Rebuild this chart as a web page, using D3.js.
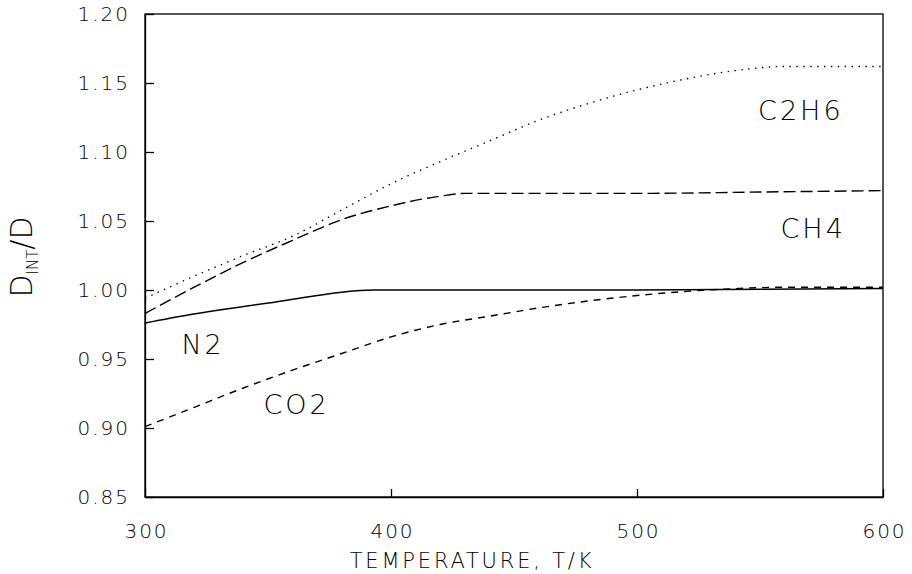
<!DOCTYPE html>
<html>
<head>
<meta charset="utf-8">
<script src="https://cdn.jsdelivr.net/npm/d3@7"></script>
<style>
  body { margin: 0; background: #fff; }
  svg { display: block; }
  text { font-family: "DejaVu Sans", sans-serif; font-weight: 200; fill: #000; }
</style>
</head>
<body>
<svg width="912" height="574"></svg>
<script>
// values: [T in K, D_INT/D]
var n2 = [[300, 0.976], [318, 0.982], [352, 0.991], [393, 1.000], [500, 1.000], [600, 1.001]];
var co2 = [[300, 0.901], [320, 0.915], [340, 0.929], [360, 0.942], [380, 0.954], [400, 0.966], [420, 0.975], [440, 0.981],
           [460, 0.987], [480, 0.992], [500, 0.996], [520, 0.999], [540, 1.001], [560, 1.002], [600, 1.002]];
var ch4 = [[300, 0.983], [320, 1.002], [340, 1.020], [360, 1.036], [380, 1.051], [400, 1.061], [420, 1.068], [430, 1.070],
           [500, 1.070], [550, 1.071], [600, 1.072]];
var c2h6 = [[300, 0.994], [320, 1.010], [340, 1.025], [360, 1.039], [380, 1.058], [400, 1.077], [420, 1.093], [440, 1.108],
            [460, 1.123], [480, 1.135], [500, 1.145], [520, 1.153], [540, 1.159], [560, 1.162], [580, 1.162], [600, 1.162]];

var xTicks = [300, 400, 500, 600];
var yTicks = [0.85, 0.90, 0.95, 1.00, 1.05, 1.10, 1.15, 1.20];

// label name, T, value
var labels = [["C2H6", 566, 1.130], ["CH4", 571, 1.045], ["N2", 323, 0.961], ["CO2", 361, 0.917]];

var mLeft = 145, mTop = 14, mRight = 883, mBottom = 497;

var svg = d3.select("svg");

var x = d3.scaleLinear().domain([300, 600]).range([mLeft, mRight]);
var y = d3.scaleLinear().domain([0.85, 1.20]).range([mBottom, mTop]);

// frame
svg.append("rect")
    .attr("x", mLeft).attr("y", mTop)
    .attr("width", mRight - mLeft).attr("height", mBottom - mTop)
    .attr("fill", "none").attr("stroke", "#000").attr("stroke-width", 1.3);

var yAxis = svg.append("g")
    .attr("transform", "translate(" + mLeft + ",0)")
    .call(d3.axisLeft(y).tickValues(yTicks).tickFormat(d3.format(".2f"))
        .tickSizeInner(-9).tickSizeOuter(0).tickPadding(15));

var xAxis = svg.append("g")
    .attr("transform", "translate(0," + mBottom + ")")
    .call(d3.axisBottom(x).tickValues(xTicks).tickFormat(d3.format("d"))
        .tickSizeInner(-8).tickSizeOuter(0).tickPadding(27));

[xAxis, yAxis].forEach(function (a) {
    a.attr("font-family", null).attr("font-size", null);
    a.select(".domain").attr("stroke", "#000").attr("stroke-width", 1.3);
    a.selectAll(".tick line").attr("stroke", "#000").attr("stroke-width", 1.3);
    a.selectAll(".tick text").style("font-size", "20px").style("letter-spacing", "2px");
});
xAxis.selectAll(".tick text").attr("dx", 1);

var line = d3.line()
    .x(function (d) { return x(d[0]); })
    .y(function (d) { return y(d[1]); })
    .curve(d3.curveMonotoneX);

function draw(points, dash, width) {
    svg.append("path")
        .attr("d", line(points))
        .attr("fill", "none")
        .attr("stroke", "#000")
        .attr("stroke-width", width)
        .attr("stroke-dasharray", dash);
}

draw(n2, null, 1.5);
draw(co2, "7,6", 1.4);
draw(ch4, "12,5", 1.4);
draw(c2h6, "1.4,5.5", 1.4);

svg.selectAll(".curve-label")
    .data(labels)
    .enter().append("text")
    .attr("class", "curve-label")
    .attr("x", function (d) { return x(d[1]); })
    .attr("y", function (d) { return y(d[2]); })
    .attr("dx", 1.5)
    .attr("dy", "0.36em")
    .attr("text-anchor", "middle")
    .style("font-size", "27px")
    .style("letter-spacing", "3px")
    .text(function (d) { return d[0]; });

// axis titles
svg.append("text")
    .attr("x", 472).attr("y", 568)
    .attr("text-anchor", "middle")
    .style("font-size", "21px")
    .style("letter-spacing", "2.8px")
    .text("TEMPERATURE,  T/K");

var yt = svg.append("text")
    .attr("transform", "translate(32,257) rotate(-90)")
    .attr("text-anchor", "middle")
    .style("font-size", "30px");
yt.append("tspan").text("D");
yt.append("tspan").attr("dy", 6).style("font-size", "15px").text("INT");
yt.append("tspan").attr("dy", -6).text("/D");
</script>
</body>
</html>
